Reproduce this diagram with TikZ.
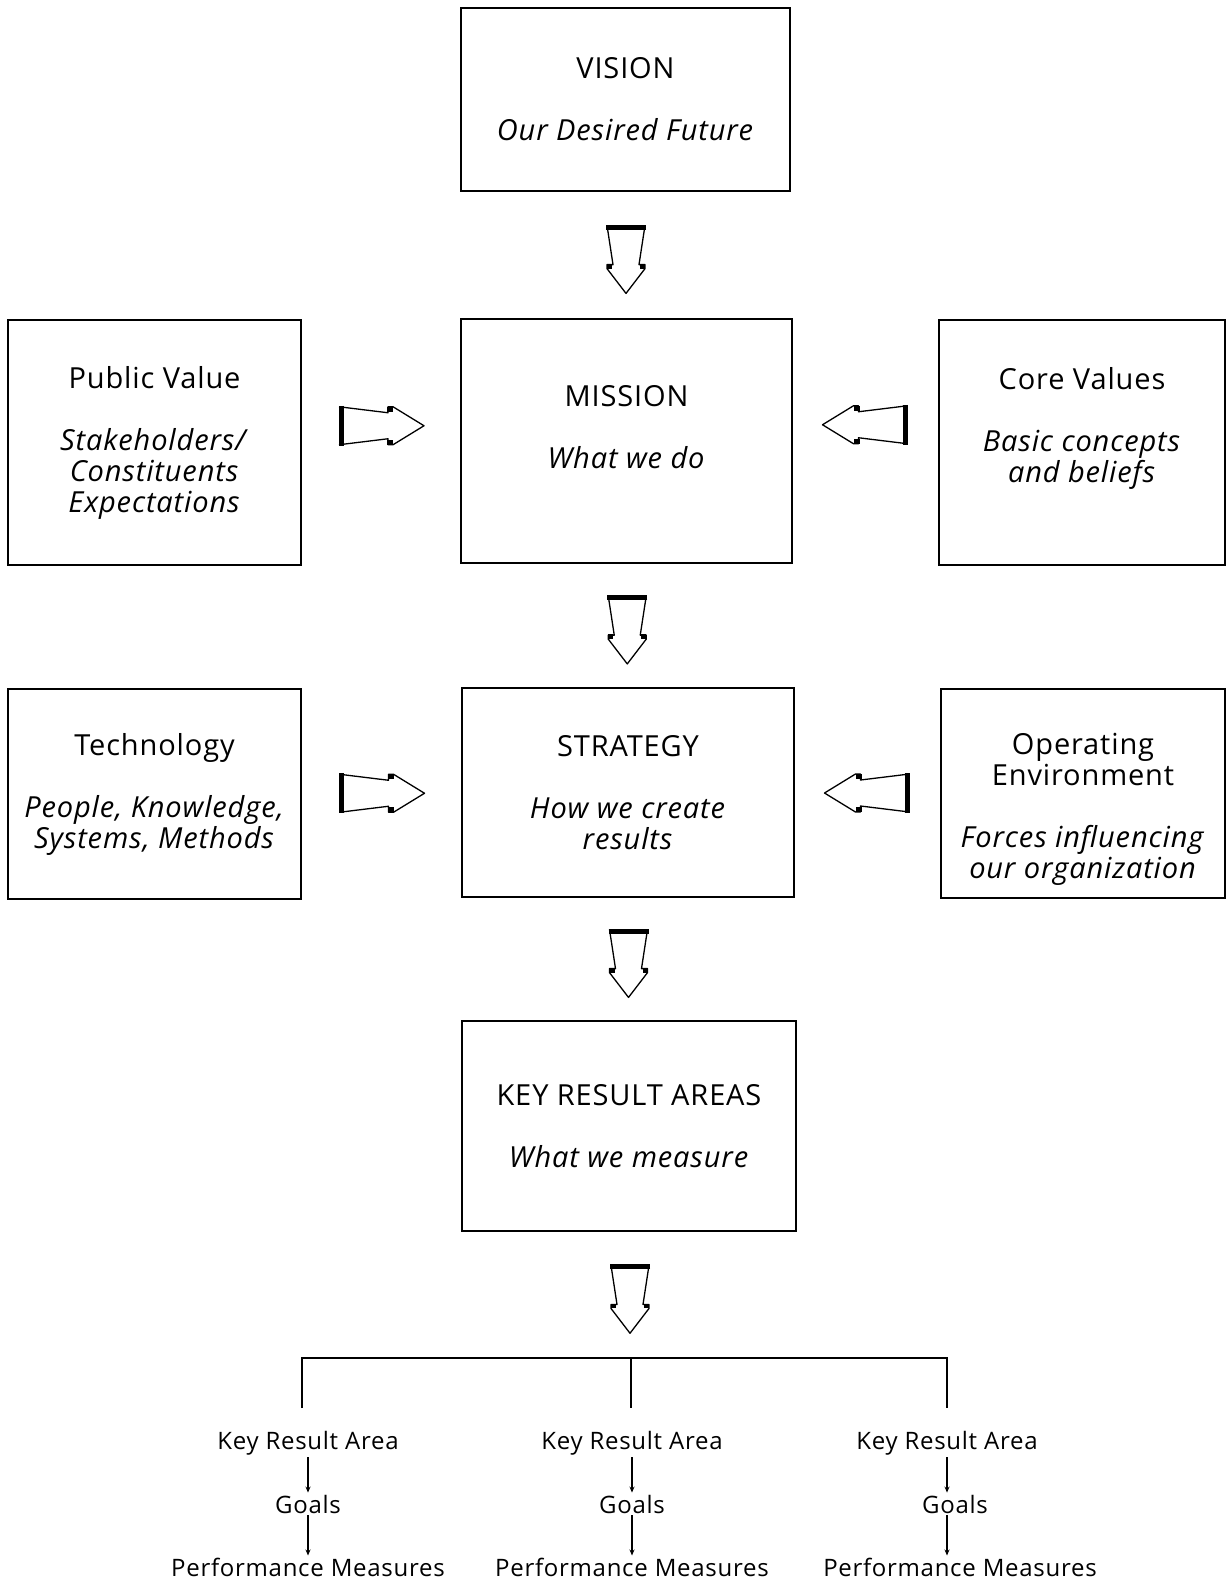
\documentclass[tikz,border=0pt]{standalone}
\usepackage{fontspec}
\setmainfont{Open Sans}[LetterSpace=3]
\usetikzlibrary{positioning,calc,arrows.meta}

\tikzset{
  box/.style={draw, line width=1.4pt, inner sep=0pt},
  boxtext/.style={align=center, font=\fontsize{29}{31}\selectfont},
  subtext/.style={font=\fontsize{24}{26}\selectfont, inner sep=2pt},
  leg/.style={line width=1.4pt},
  small/.style={line width=1.2pt, -{Stealth[length=6pt,width=5pt]}},
  fatarrow/.pic={
    \draw[line width=1.3pt, line join=round] (-42,-19) -- (7,-13) -- (7,-19) -- (12,-19)
      -- (43,0) -- (12,19) -- (7,19) -- (7,13) -- (-42,19);
    \fill (6,-19) rectangle (12,-14);
    \fill (6,14) rectangle (12,19);
    \draw[line width=5pt] (-40,-20) -- (-40,20);
  }
}

\begin{document}
\begin{tikzpicture}[x=1pt, y=-1pt]
  \useasboundingbox (0,0) rectangle (1227,1580);

  % boxes
  \node[box, minimum width=329pt, minimum height=183pt] (vision) at (625.5,99.5) {};
  \node[box, minimum width=293pt, minimum height=245pt] (pubval) at (154.5,442.5) {};
  \node[box, minimum width=331pt, minimum height=244pt] (mission) at (626.5,441) {};
  \node[box, minimum width=286pt, minimum height=245pt] (core) at (1082,442.5) {};
  \node[box, minimum width=293pt, minimum height=210pt] (tech) at (154.5,794) {};
  \node[box, minimum width=332pt, minimum height=209pt] (strategy) at (628,792.5) {};
  \node[box, minimum width=284pt, minimum height=209pt] (operating) at (1083,793.5) {};
  \node[box, minimum width=334pt, minimum height=210pt] (kra) at (629,1126) {};

  % texts
  \node[boxtext] (vision-t) at (vision) {VISION\\[31pt]\textit{Our Desired Future}};
  \node[boxtext] (pubval-t) at (pubval) {Public Value\\[31pt]\textit{Stakeholders/}\\\textit{Constituents}\\\textit{Expectations}};
  \node[boxtext] (mission-t) at ([yshift=14pt]mission.center) {MISSION\\[31pt]\textit{What we do}};
  \node[boxtext] (core-t) at ([yshift=14pt]core.center) {Core Values\\[31pt]\textit{Basic concepts}\\\textit{and beliefs}};
  \node[boxtext] (tech-t) at (tech) {Technology\\[31pt]\textit{People, Knowledge,}\\\textit{Systems, Methods}};
  \node[boxtext] (strategy-t) at (strategy) {STRATEGY\\[31pt]\textit{How we create}\\\textit{results}};
  \node[boxtext] (operating-t) at ([yshift=-16pt]operating.center) {Operating\\Environment\\[31pt]\textit{Forces influencing}\\\textit{our organization}};
  \node[boxtext] (kra-t) at (kra) {KEY RESULT AREAS\\[31pt]\textit{What we measure}};

  % fork
  \coordinate (top1) at (302,1358);
  \coordinate (top2) at (631,1358);
  \coordinate (top3) at (947,1358);
  \coordinate (leg1) at (302,1408);
  \coordinate (leg2) at (631,1408);
  \coordinate (leg3) at (947,1408);
  \draw[leg] (leg1) -- (top1) -- (top3) -- (leg3);
  \draw[leg] (top2) -- (leg2);

  % block arrows
  \pic[rotate=-90, xscale=0.8] at ($(vision.south)!0.5!(mission.north)+(0,4)$) {fatarrow};
  \pic[rotate=-90, xscale=0.8] at ($(mission.south)!0.5!(strategy.north)+(0,4)$) {fatarrow};
  \pic[rotate=-90, xscale=0.8] at ($(strategy.south)!0.5!(kra.north)+(0,4)$) {fatarrow};
  \pic[rotate=-90, xscale=0.8] at ($(kra.south)!0.5!(top2)+(0,4)$) {fatarrow};
  \pic at ([yshift=16pt]$(pubval.east)!0.5!(mission.west)$) {fatarrow};
  \pic[xscale=-1] at ([yshift=17pt]$(mission.east)!0.5!(core.west)$) {fatarrow};
  \pic at ($(tech.east)!0.5!(strategy.west)$) {fatarrow};
  \pic[xscale=-1] at ($(strategy.east)!0.5!(operating.west)$) {fatarrow};

  \node[subtext] (kra1) at (308,1443) {Key Result Area};
  \node[subtext] (goal1) at (308,1504) {Goals};
  \node[subtext] (pm1) at (308,1567) {Performance Measures};
  \node[subtext] (kra2) at (632,1443) {Key Result Area};
  \node[subtext] (goal2) at (632,1504) {Goals};
  \node[subtext] (pm2) at (632,1567) {Performance Measures};
  \node[subtext] (kra3) at (947,1443) {Key Result Area};
  \node[subtext] (goal3) at (955,1504) {Goals};
  \node[subtext] (pm3) at (960,1567) {Performance Measures};

  \foreach \i in {1,2,3} {
    \draw[small] (kra\i.south) -- (kra\i.south |- goal\i.north);
    \draw[small] (kra\i.south |- goal\i.south) -- (kra\i.south |- pm\i.north);
  }
\end{tikzpicture}
\end{document}
